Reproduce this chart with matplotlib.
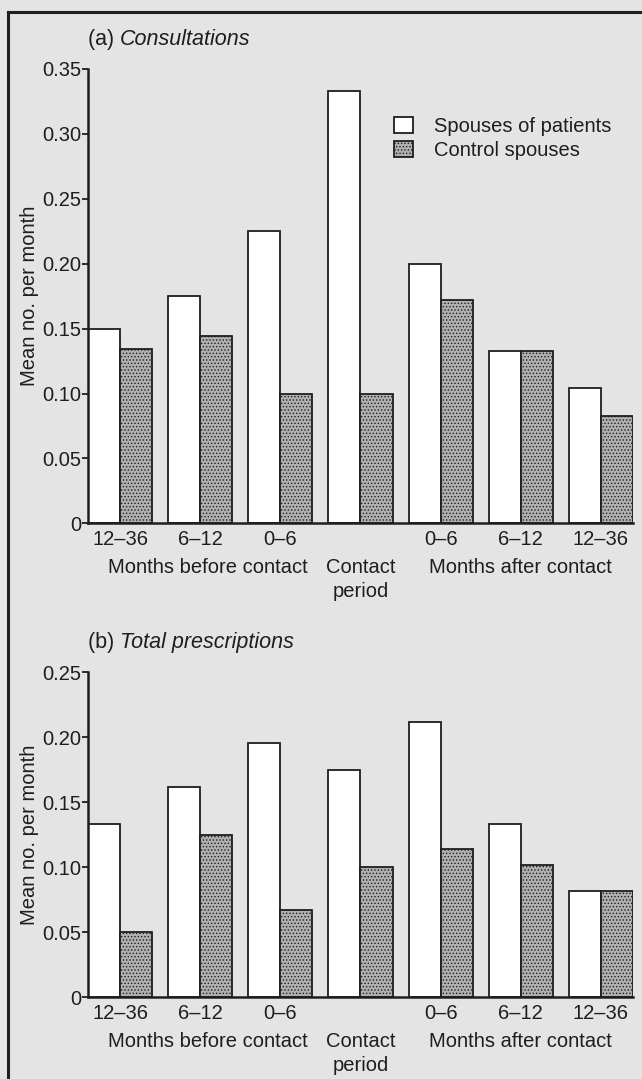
import matplotlib.pyplot as plt
from matplotlib.lines import Line2D

plt.rcParams['font.family'] = ['Liberation Sans', 'DejaVu Sans']
plt.rcParams['hatch.color'] = '#5e5e5e'
plt.rcParams['hatch.linewidth'] = 0.6

periods = ['12\u201336', '6\u201312', '0\u20136', '', '0\u20136', '6\u201312', '12\u201336']
group_labels = ['Months before contact', 'Contact\nperiod', 'Months after contact']

# (a) consultations
cons_patients = [0.150, 0.175, 0.225, 0.333, 0.200, 0.133, 0.104]
cons_controls = [0.134, 0.144, 0.100, 0.100, 0.172, 0.133, 0.083]
# (b) total prescriptions
presc_patients = [0.133, 0.162, 0.196, 0.175, 0.212, 0.133, 0.082]
presc_controls = [0.050, 0.125, 0.067, 0.100, 0.114, 0.102, 0.082]

group_pos = [1.1, 3, 5]  # where the group captions sit under the bars
bg = '#e4e4e4'
ink = '#1e1e1e'
fs = 14.5

fig = plt.figure(figsize=(6.42, 10.79), dpi=100)
fig.patch.set_facecolor(bg)

ax1 = fig.add_axes([0.137, 0.5149, 0.849, 0.4212])
ax2 = fig.add_axes([0.137, 0.0758, 0.849, 0.3011])

for ax, pat, ctl, ymax, tag, name in [
        (ax1, cons_patients, cons_controls, 0.35, '(a) ', 'Consultations'),
        (ax2, presc_patients, presc_controls, 0.25, '(b) ', 'Total prescriptions')]:
    ax.set_facecolor(bg)
    x = list(range(len(pat)))
    w = 0.4
    ax.bar([i - w for i in x], pat, width=w, align='edge', color='white',
           edgecolor=ink, linewidth=1.3, label='Spouses of patients')
    ax.bar(x, ctl, width=w, align='edge', color='#b0b0b0', hatch='.....',
           edgecolor=ink, linewidth=1.3, label='Control spouses')
    ax.set_xlim(-0.4, 6.4)
    ax.set_ylim(0, ymax)
    ticks = [i * 0.05 for i in range(int(round(ymax / 0.05)) + 1)]
    ax.set_yticks(ticks)
    ax.set_yticklabels(['0' if t == 0 else '%.2f' % t for t in ticks],
                       fontsize=fs, color=ink)
    ax.tick_params(axis='y', direction='out', length=4, width=1.3, color=ink, pad=1)
    ax.set_xticks(x)
    ax.set_xticklabels(periods, fontsize=fs, color=ink)
    ax.tick_params(axis='x', length=0, pad=5)
    for s in ['top', 'right']:
        ax.spines[s].set_visible(False)
    for s in ['left', 'bottom']:
        ax.spines[s].set_linewidth(1.8)
        ax.spines[s].set_color(ink)
    ax.set_ylabel('Mean no. per month', fontsize=fs, color=ink, labelpad=2)
    for lab, gx in zip(group_labels, group_pos):
        ax.annotate(lab, xy=(gx, 0), xycoords=('data', 'axes fraction'),
                    xytext=(0, -25), textcoords='offset points', ha='center',
                    va='top', fontsize=fs, color=ink, linespacing=1.35)
    t = ax.annotate(tag, xy=(0, 1), xycoords='axes fraction', xytext=(0, 14),
                    textcoords='offset points', ha='left', va='bottom',
                    fontsize=fs + 1, color=ink)
    ax.annotate(name, xycoords=t, xy=(1, 0), va='bottom', ha='left',
                fontsize=fs + 1, color=ink, style='italic')

ax1.legend(loc='upper left', bbox_to_anchor=(0.561, 0.895), frameon=False,
           fontsize=fs, handlelength=0.95, handleheight=0.85, handletextpad=1.05,
           labelspacing=0.25, borderpad=0, borderaxespad=0, labelcolor=ink)

# scan frame: left and top rules of the printed figure box
fig.add_artist(Line2D([8 / 642, 8 / 642], [0, 1 - 12 / 1079], transform=fig.transFigure,
                      color=ink, linewidth=2.2))
fig.add_artist(Line2D([8 / 642, 1], [1 - 12 / 1079, 1 - 12 / 1079], transform=fig.transFigure,
                      color=ink, linewidth=2.2))

fig.savefig('out.png', dpi=100, facecolor=bg)
